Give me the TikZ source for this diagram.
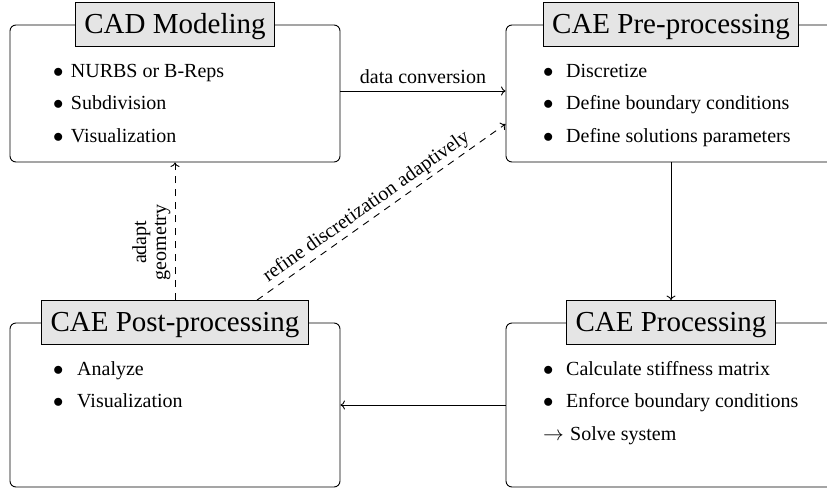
\documentclass[tikz,border=0pt]{standalone}
\usepackage{fontspec}
\setmainfont{Liberation Serif}
\usetikzlibrary{arrows.meta}
\tikzset{
  stagebox/.style={draw, line width=0.9pt, rounded corners=6pt, minimum width=330pt, inner sep=0pt},
  stagetitle/.style={draw, line width=0.9pt, fill=black!10, font=\fontsize{29}{29}\selectfont,
    minimum height=44pt, inner xsep=9pt, text height=20pt, text depth=2pt},
  itemrow/.style={anchor=base west, inner sep=0pt, font=\fontsize{20}{24}\selectfont},
  flow/.style={line width=0.9pt, -{To[length=4.5pt,width=9pt]}},
  feedback/.style={flow, dash pattern=on 7pt off 6pt},
  lbl/.style={font=\fontsize{20}{20}\selectfont, inner sep=3pt},
}
\begin{document}
\begin{tikzpicture}[x=1pt,y=1pt]
\useasboundingbox (0,0) rectangle (827,-490);
\clip (0,0) rectangle (827,-490);
% stage boxes
\node[stagebox, minimum height=137pt] (cad) at (175,-93.5) {};
\node[stagebox, minimum height=137pt] (pre) at (671,-93.5) {};
\node[stagebox, minimum height=164pt] (post) at (175,-405) {};
\node[stagebox, minimum height=164pt] (proc) at (671,-405) {};
% titles
\node[stagetitle] (cadt) at (cad.north) {CAD Modeling};
\node[stagetitle] (pret) at (pre.north) {CAE Pre-processing};
\node[stagetitle] (postt) at (post.north) {CAE Post-processing};
\node[stagetitle] (proct) at (proc.north) {CAE Processing};
% items
\node[itemrow] (cadi1) at (53,-77) {\makebox[17.7pt][l]{$\bullet$}NURBS or B-Reps};
\node[itemrow] (cadi2) at (53,-109.5) {\makebox[17.7pt][l]{$\bullet$}Subdivision};
\node[itemrow] (cadi3) at (53,-142) {\makebox[17.7pt][l]{$\bullet$}Visualization};
\node[itemrow] (prei1) at (543,-77) {\makebox[23pt][l]{$\bullet$}Discretize};
\node[itemrow] (prei2) at (543,-109.5) {\makebox[23pt][l]{$\bullet$}Define boundary conditions};
\node[itemrow] (prei3) at (543,-142) {\makebox[23pt][l]{$\bullet$}Define solutions parameters};
\node[itemrow] (posti1) at (53,-375) {\makebox[24pt][l]{$\bullet$}Analyze};
\node[itemrow] (posti2) at (53,-407.5) {\makebox[24pt][l]{$\bullet$}Visualization};
\node[itemrow] (proci1) at (543,-375) {\makebox[23pt][l]{$\bullet$}Calculate stiffness matrix};
\node[itemrow] (proci2) at (543,-407.5) {\makebox[23pt][l]{$\bullet$}Enforce boundary conditions};
\node[itemrow] (proci3) at (543,-440) {\makebox[27pt][l]{$\rightarrow$}Solve system};
% connectors
\draw[flow] ([yshift=2.5pt]cad.east) -- node[lbl, anchor=base, yshift=8pt] (lconv) {data conversion} ([yshift=2.5pt]pre.west);
\draw[flow] (pre.south) -- (proct.north);
\draw[flow] (proc.west) -- (post.east);
\draw[feedback] (postt.north) -- node[lbl, pos=0.42, rotate=90, anchor=south, align=center, inner sep=4pt] (ladapt) {adapt\\geometry} (cad.south);
\draw[feedback] ([xshift=82pt]postt.north) -- node[lbl, pos=0.47, sloped, above] (lrefine) {refine discretization adaptively} ([yshift=-30.5pt]pre.west);
\end{tikzpicture}
\end{document}
